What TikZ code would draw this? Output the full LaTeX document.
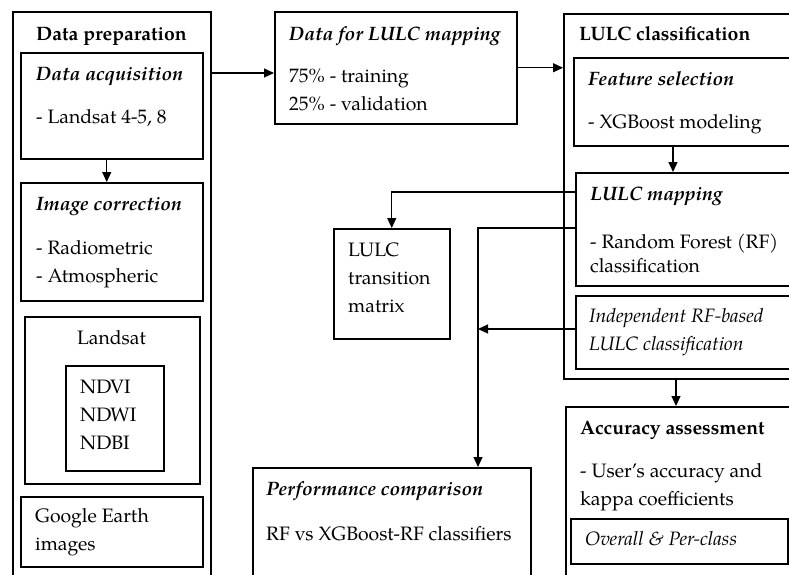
\documentclass[tikz,border=0pt]{standalone}
\usepackage{fontspec}
\setmainfont{TeX Gyre Pagella}
\usetikzlibrary{arrows.meta,positioning}

\begin{document}
\begin{tikzpicture}[x=1pt, y=-1pt,
    every node/.append style={font=\fontsize{19.4}{28}\selectfont, inner sep=0pt},
    box/.style={draw, line width=1.5pt, anchor=north west},
    txt/.style={anchor=base west, align=left},
    arr/.style={line width=1.2pt, -{Triangle[length=10pt, width=9pt]}}]
    \useasboundingbox (0,0) rectangle (789,574);
    \clip (0,0) rectangle (789,574);

    % data preparation column
    \node[box, minimum width=198pt, minimum height=600pt] (prep) at (12,11) {};
    \node[box, minimum width=182pt, minimum height=106pt] (acq) at (20,52) {};
    \node[box, minimum width=182pt, minimum height=118pt] (corr) at (20,182) {};
    \node[box, minimum width=175pt, minimum height=167pt] (lsat) at (24,316) {};
    \node[box, minimum width=98pt, minimum height=105pt] (ndx) at (65,365) {};
    \node[box, minimum width=182pt, minimum height=70pt] (gee) at (20,496) {};

    % (multi-line texts sit on the baseline of their last line)
    \node[txt] (prep-t) at (36,40) {\textbf{Data preparation}};
    \node[txt] (acq-t) at (36,80) {\textbf{\textit{Data acquisition}}};
    \node[txt] (acq-b) at (36,123) {- Landsat 4-5, 8};
    \node[txt] (corr-t) at (36,210) {\textbf{\textit{Image correction}}};
    \node[txt] (corr-b) at (36,282) {- Radiometric\\- Atmospheric};
    \node[anchor=base] (lsat-t) at (111.5,344) {Landsat};
    \node[txt] (ndx-b) at (80,449) {NDVI\\NDWI\\NDBI};
    \node[txt] (gee-b) at (35,550) {Google Earth\\images};

    % data split
    \node[box, minimum width=242pt, minimum height=112pt] (split) at (274,11) {};
    \node[txt] (split-t) at (289,40) {\textbf{\textit{Data for LULC mapping}}};
    \node[txt] (split-b) at (289,110) {75\% - training\\25\% - validation};

    % classification column
    \node[box, minimum width=240pt, minimum height=365pt] (cls) at (563,13) {};
    \node[box, minimum width=230pt, minimum height=88pt] (feat) at (573,57) {};
    \node[box, minimum width=230pt, minimum height=113pt] (map) at (575,172) {};
    \node[box, minimum width=230pt, minimum height=73pt] (indep) at (575,295) {};

    \node[txt] (cls-t) at (579,40) {\textbf{LULC classification}};
    \node[txt] (feat-t) at (588,85) {\textbf{\textit{Feature selection}}};
    \node[txt] (feat-b) at (588,128) {- XGBoost modeling};
    \node[txt] (map-t) at (590,200) {\textbf{\textit{LULC mapping}}};
    \node[txt] (map-b) at (590,272) {- Random Forest (RF)\\[-4pt]classification};
    \node[txt] (indep-b) at (589,350) {\textit{Independent RF-based}\\\textit{LULC classification}};

    % outputs
    \node[box, minimum width=116pt, minimum height=110pt] (trans) at (333,228) {};
    \node[txt] (trans-b) at (348,312) {LULC\\transition\\matrix};
    \node[box, minimum width=278pt, minimum height=130pt] (perf) at (252,467) {};
    \node[txt] (perf-t) at (266,495) {\textbf{\textit{Performance comparison}}};
    \node[txt] (perf-b) at (266,540) {RF vs XGBoost-RF classifiers};
    \node[box, minimum width=240pt, minimum height=200pt] (acc) at (565,406) {};
    \node[txt] (acc-t) at (580,434) {\textbf{Accuracy assessment}};
    \node[txt] (acc-b) at (580,505) {- User's accuracy and\\kappa coefficients};
    \node[box, minimum width=217pt, minimum height=45pt] (ovr) at (570,518) {};
    \node[txt] (ovr-b) at (585,545) {\textit{Overall \& Per-class}};

    % connectors
    \coordinate (fx) at (673,0);
    \coordinate (ax) at (676,0);
    \coordinate (join) at (478,329);
    \draw[arr] ([xshift=-5pt]acq.south) -- ([xshift=-5pt]corr.north);
    \draw[arr] ([yshift=-62pt]prep.north east) -- ([yshift=-62pt]prep.north east -| split.west);
    \draw[arr] (split.east) -- (split.east -| cls.west);
    \draw[arr] (feat.south -| fx) -- (map.north -| fx);
    \draw[arr] (cls.south -| ax) -- (acc.north -| ax);
    \draw[arr] ([yshift=-20pt]map.north west) -| (trans.north);
    \draw[arr] ([yshift=-56pt]map.north west) -| (join) -- (perf.north -| join);
    \draw[arr] (indep.west |- join) -- (join);
\end{tikzpicture}
\end{document}
